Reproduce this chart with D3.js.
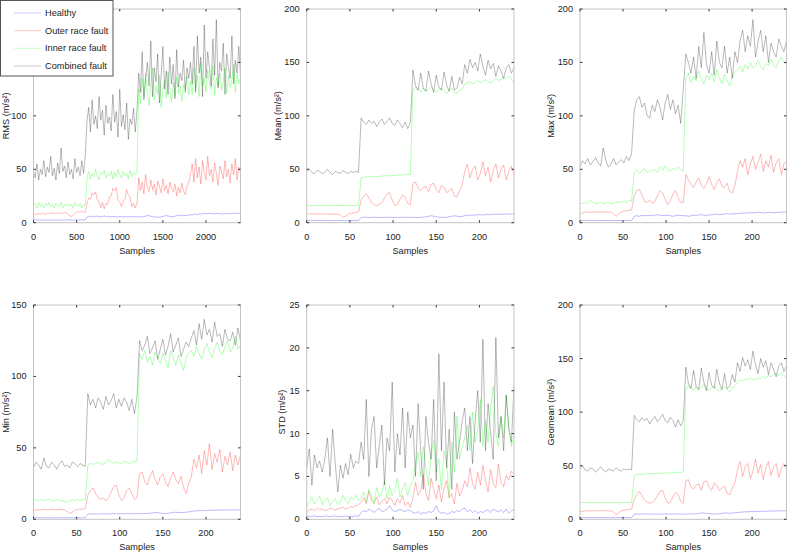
<!DOCTYPE html>
<html><head><meta charset="utf-8">
<script src="https://cdn.jsdelivr.net/npm/d3@7"></script>
<style>
body{margin:0;background:#fff}
text{font-family:"Liberation Sans",Arial,Helvetica,sans-serif;fill:#222}
</style>
</head><body>
<svg id="chart" width="788" height="552"></svg>
<script>
// ---------- series names / colours ----------
const seriesNames = ["Healthy", "Outer race fault", "Inner race fault", "Combined fault"];
const seriesColors = ["#0000ff", "#ff0000", "#00ff00", "#000000"];

// ---------- RMS (x 0..2400, 121 points) ----------
const rmsHealthy = [
2.5,2.8,2.4,2.6,2.3,2.7,2.5,2.4,2.6,2.3, 2.5,2.7,2.4,2.6,2.5,2.3,2.6,2.4,2.5,2.7, 2.4,2.6,2.5,2.3,2.6,2.4,2.7,2.5,2.8,2.6, 2.7,
5.2,6,5.5,6.3,5.4,5.9,6.2,5.3,6,5.6, 6.4,5.5,6.1,5.7,5.3,6,5.5,5.8,5.2,5.9, 5.6,5.3,5.8,5.4,5.7,5.2,5.6,5.9,5.4,5.7,
5.3,5.6,5.2,5.8,6.2,6.8,6.4,6,5.7,5.4, 5.2,5.6,5,5.4,5.8,6.3,6.7,6.2,5.9,5.5, 5.8,6.2,6.5,6.9,6.4,6.8,7,6.6,6.9,7.2,
7.5,7.2,7.8,8.1,7.6,8.3,7.9,8.5,8.8,8.2, 8.6,8.9,8.4,8.7,8.1,8.5,8.9,8.3,8,8.4, 8.7,8.2,8.6,8.9,8.3,8.8,9.1,8.5,8.9,8.6];
const rmsOuter = [
6.5,8.2,7.6,8.8,8,9.2,8.5,7.8,9,8.3, 9.5,8.7,9.1,8.2,9.6,8.8,9.3,8.6,9.4,8.9, 8.2,6.5,5.8,6.9,8.5,9.8,10.5,9.6,11,10.2, 9.5,
18,23,22,28,26,29,21,20,14,19, 13,18,17,24,25,32,30,33,21,19, 15,20,22,31,26,24,15,18,14,18,
42,30,38,27,45,33,29,40,31,36, 26,39,34,28,41,30,35,27,38,32, 29,36,25,33,28,37,30,26,34,38,
45,55,38,60,42,52,36,58,47,40, 62,44,50,38,56,46,35,53,48,41, 58,43,50,37,55,45,60,40,52,47];
const rmsInner = [
16,18,14,19,15,17,14,18,16,19, 15,17,14,18,16,15,19,14,17,16, 18,15,17,14,19,16,15,18,14,17, 16,
42,48,41,46,43,50,44,40,47,45, 49,42,46,44,48,41,47,43,50,45, 42,48,44,46,41,49,43,47,45,48,
125,112,135,118,140,122,110,130,145,115, 128,120,138,108,126,133,117,141,124,113, 131,119,136,121,128,114,130,125,137,120,
132,120,145,126,138,118,150,128,135,122, 143,130,125,147,119,136,128,140,124,132, 145,121,138,127,134,148,122,139,130,136];
const rmsCombined = [
48,42,55,40,50,45,58,43,52,47, 62,44,51,40,56,46,70,48,53,42, 57,45,50,41,60,47,52,44,58,46, 62,
95,108,85,115,92,100,88,118,96,105, 82,110,93,99,86,120,94,104,80,125, 90,101,87,112,78,97,92,107,85,105,
140,122,160,115,135,150,128,170,118,145, 132,158,112,138,165,125,142,120,155,130, 148,116,162,127,140,133,152,122,145,135,
150,130,165,122,175,140,155,118,185,135, 160,145,128,172,138,190,126,150,142,168, 120,158,145,135,175,130,152,140,165,138];

// ---------- Mean (x 0..240, 81 points) ----------
const meanHealthy = [
2,2,2.2,2,1.8,2,2,2.2,2,2,1.8,2,2,2.2,2,1.8,2,2,2.2,2,2,
5,5.2,5,4.8,5,5.2,5,4.8,5,5,5.2,5,4.8,5,5,4.8,5,5.2,5,5,
5,5,4.8,5,5.2,5.5,6,6.5,6,5.5,5.2,5,5,5,5.5,6,6.5,6,5.8,6,
6.5,7,7,7.2,7,7.5,7.5,7.2,7.5,7.8,7.5,7.8,8,7.8,8,8,8,8,8.2,8];
const meanOuter = [
8,8.5,8,8,8.5,8,8,8.5,8,8,8,8,8,7,5,6,8,9,9,9.5,10,
21,25,27,23,19,17,16,17,19,23,27,28,21,16,17,22,26,24,18,17,
37,38,32,30,33,34,29,36,37,31,28,35,33,28,30,32,25,24,30,35,
48,55,42,50,53,40,46,57,44,52,38,49,55,42,50,54,40,48,53,45];
const meanInner = [
16,16,16.2,16,16,16.1,16,16,16.2,16,16,16,16.1,16,16,16.2,16,16,16,16.1,16,
42,42.5,43,42.8,43,43.5,43,43.2,43.5,44,43.8,44,44.2,44,44.5,44.8,44.5,45,45,45.2,
124,127,125,122,126,123,125,127,124,122,125,126,123,121,124,126,122,121,124,125,
130,131,132,130,131,133,131,132,134,132,131,133,135,133,134,136,135,137,134,132];
const meanCombined = [
48,50,47,46,49,48,46,47,50,47,45,48,47,46,49,47,46,48,47,48,47,
98,94,92,96,93,95,90,94,97,92,95,98,93,91,96,93,89,94,88,94,
143,128,124,140,126,123,142,130,122,138,127,124,141,129,123,137,124,126,136,130,
148,140,153,145,150,142,158,146,138,152,144,149,137,147,142,135,145,148,140,145];

// ---------- Max ----------
const maxHealthy = [
2,2,2.2,2,2,2,2.2,2,2,2,2,2,2.2,2,2,2,2,2,2.2,2,2,
6,6.5,6,6.8,6.5,7,6.5,6.8,7,7.5,7,6.5,7,6.8,6.5,6,6.5,7,6.8,6.5,
6.5,6,6.5,7,6.8,7.2,7.5,7,6.8,7.5,7.2,7.8,8,7.5,7.8,8,8.5,8,8.2,8.5,
8.5,9,8.8,9.2,9,9.5,9.2,9.5,9.8,9.5,9,9.5,9.8,9.5,9.2,9.5,9.8,10,9.8,10];
const maxOuter = [
8,9,10,10,9.5,10,10,9.8,10,10.2,10,9.8,10,8,6,8,10,11,11,11.5,12,
25,30,31,26,20,19,21,18,20,25,30,28,22,17,20,27,30,24,19,19,
45,40,36,33,38,42,35,32,37,43,36,31,38,41,34,33,37,29,28,35,
48,58,52,60,45,55,62,50,57,64,48,58,52,63,47,56,60,45,55,58];
const maxInner = [
18,18,19,18,21,19,18,18,19,18,18,19,18,18,19,19,20,20,19,21,20,
47,50,46,48,51,47,49,48,50,47,52,49,53,50,48,51,49,52,50,48,
135,140,131,137,133,142,135,130,138,134,140,132,143,136,130,139,133,128,136,141,
143,146,141,148,144,150,145,147,152,146,143,149,147,153,148,145,151,155,150,148];
const maxCombined = [
52,58,55,60,54,57,61,56,53,70,58,52,55,60,54,57,59,56,62,58,65,
105,115,118,108,112,100,98,110,104,115,108,96,112,120,106,115,102,110,93,125,
158,150,140,155,135,165,145,178,148,140,160,138,170,150,145,165,140,155,135,160,
150,170,180,160,175,165,190,155,170,180,160,175,150,168,160,155,172,165,160,170];

// ---------- Min ----------
const minHealthy = [
1,1.2,1,1,1.2,1,1,1.1,1,1,1.2,1,1,1,1.1,1,1,1.2,1,1,1.2,
3.5,3.8,3.6,3.9,3.7,3.8,4,3.8,3.9,3.7,4,3.8,3.9,4.1,3.8,3.9,4,3.8,3.9,4,
4,3.9,4.1,4,4.3,4.5,4.8,4.6,4.3,4.1,4,4.2,4.5,4.8,5,4.8,4.6,4.8,5,5.2,
5.5,5.8,6,5.9,6.2,6,6.3,6.5,6.2,6.4,6.3,6.6,6.5,6.4,6.6,6.5,6.7,6.5,6.6,6.5];
const minOuter = [
6,6.5,6.8,6.5,7,6.8,6.5,7,6.8,6.6,7,6.8,6.5,5.5,4,5,6.5,7,7,7.2,7.5,
17,20,22,18,15,14,15,13,15,19,23,24,17,13,15,20,22,18,14,15,
32,33,26,24,30,34,28,24,30,32,26,23,29,33,28,25,30,22,18,25,
30,42,36,45,32,48,38,53,35,46,40,49,33,44,38,47,34,45,38,45];
const minInner = [
14,13.5,13,14,13,13.5,14,13,13,14,13,13,12.5,12,13,13.5,13,14,13,14,13.5,
38,39,38.5,39,40,39,38.5,39.5,42,40,39,40,39.5,39,40.5,40,39,40,40.5,41,
116,112,118,110,114,108,117,113,109,116,111,106,118,113,108,115,110,104,113,116,
118,114,121,116,112,119,123,117,113,120,124,118,115,121,125,117,120,128,119,122];
const minCombined = [
36,40,38,35,43,37,36,40,38,35,39,41,37,38,36,40,39,37,39,38,37,
88,80,84,78,85,82,77,86,80,83,88,78,84,79,85,82,76,84,74,86,
125,118,122,128,116,120,125,112,119,126,115,121,130,117,122,127,114,119,124,121,
127,132,122,137,126,140,129,133,124,138,128,130,121,133,126,125,131,122,134,125];

// ---------- STD ----------
const stdHealthy = [
0.35,0.3,0.35,0.4,0.3,0.35,0.3,0.4,0.35,0.3,0.35,0.4,0.3,0.35,0.3,0.4,0.3,0.35,0.3,0.4,0.35,
0.8,1.0,0.9,1.2,1.0,0.8,1.1,1.3,0.9,1.0,1.2,1.6,1.1,0.9,1.0,1.2,1.0,0.9,1.1,1.0,
0.8,0.7,0.9,0.6,0.8,0.7,0.9,0.8,1.0,1.6,0.9,0.7,0.8,0.6,0.7,0.9,0.8,1.0,0.9,1.2,
1.3,0.9,1.1,0.8,1.0,0.7,0.9,0.8,1.0,1.1,0.8,1.2,1.0,0.9,1.1,0.8,1.2,0.7,1.0,1.1];
const stdOuter = [
0.8,1.1,1.2,1.0,1.3,1.1,1.2,1.0,1.1,1.3,1.2,1.1,1.2,1.3,1.4,1.2,1.3,1.5,1.4,1.6,1.7,
2.0,2.5,1.8,3.3,2.2,1.9,2.6,1.7,2.1,2.4,1.8,2.6,2.2,1.6,2.4,1.9,2.8,1.6,2.0,1.4,
2.5,4.3,2.8,3.3,5.2,3.0,2.2,4.8,3.5,2.4,4.0,2.0,3.6,4.5,2.5,3.0,1.8,4.2,2.7,3.4,
4.5,3.8,6.0,4.2,3.5,5.5,4.0,6.3,4.6,3.2,5.8,4.1,3.7,6.4,4.3,3.8,5.1,4.6,5.6,5.2];
const stdInner = [
1.5,2.0,2.6,1.8,2.2,2.7,1.7,2.3,2.5,1.6,2.1,2.4,1.7,2.0,2.8,2.2,1.8,2.6,2.3,2.8,2.2,
2.5,3.2,2.0,3.5,2.8,1.8,3.7,2.6,3.0,4.5,2.4,3.9,2.8,3.3,4.8,2.6,3.6,4.2,2.8,4.0,
4.5,6.5,7.8,5.0,8.5,6.0,4.0,7.5,9.2,5.5,7.0,3.5,8.0,6.5,2.5,9.0,5.5,12.0,7.0,8.5,
9.5,11.0,8.0,12.5,9.0,10.5,14.0,8.5,11.5,9.0,13.0,15.5,10.0,8.5,12.0,9.5,14.5,11.0,8.5,10.0];
const stdCombined = [
6.0,8.2,4.0,7.5,6.0,6.8,5.5,7.0,9.5,5.0,10.5,6.5,3.2,6.3,4.8,6.5,5.2,7.6,6.0,6.8,6.5,
9.0,7.0,14.0,5.0,10.5,12.0,6.0,8.5,11.0,4.0,9.5,8.0,16.0,5.5,10.0,7.5,13.0,6.0,12.5,9.5,
11.0,5.0,13.5,8.0,3.5,12.0,9.0,7.0,14.0,4.5,19.3,8.0,16.0,6.0,10.5,3.5,12.5,7.0,9.0,11.5,
13.0,8.0,12.0,6.5,11.5,15.0,9.0,21.0,8.0,13.5,10.0,7.0,21.2,9.5,12.0,8.0,14.5,10.5,9.0,15.5];

// ---------- Geomean ----------
const geoHealthy = [
1.5,1.6,1.5,1.7,1.5,1.6,1.5,1.5,1.7,1.5,1.6,1.5,1.5,1.6,1.5,1.7,1.5,1.6,1.5,1.5,1.6,
4.8,5,4.7,5,4.9,5.1,4.8,5,4.9,4.7,5,4.8,5,4.9,4.8,5,4.9,5,4.8,4.9,
4.8,5,4.9,5.2,5,5.5,6,5.8,5.5,5.2,5,4.9,5,5.2,5.6,6,5.8,5.6,5.8,6,
6.3,6.6,6.8,7,6.9,7.2,7.1,7.3,7.5,7.4,7.6,7.5,7.7,7.6,7.8,7.7,7.9,7.8,8,7.9];
const geoOuter = [
7,7.5,7.8,8,7.8,8,7.9,8,7.8,8,8.2,7.8,8,6.5,4.5,6,7.8,8.5,9,9.2,9.5,
19,23,26,22,18,16,15,16,18,22,26,27,20,15,16,21,25,23,17,15,
36,37,30,28,32,33,27,35,36,30,27,34,32,27,29,31,24,23,29,34,
46,54,40,49,52,38,45,56,43,51,37,48,54,41,49,52,39,47,52,48];
const geoInner = [
15.5,15.8,15.6,15.5,15.7,15.6,15.5,15.8,15.6,15.5,15.7,15.6,15.5,15.8,15.6,15.5,15.7,15.6,15.5,15.8,15.6,
41,41.8,42,41.7,42.2,42.5,42.3,42.8,42.6,43,42.8,43.2,43,43.5,43.3,43.6,43.8,44,43.8,44.2,
121,125,123,120,124,121,123,126,122,120,123,125,121,120,122,124,121,119,123,124,
128,130,129,131,130,132,131,130,132,131,133,132,134,133,135,136,134,137,134,132];
const geoCombined = [
47,50,46,45,48,47,44,46,49,46,44,47,46,45,48,46,45,47,46,47,46,
97,93,91,95,92,94,89,93,96,91,94,98,92,90,95,92,86,93,87,92,
142,127,122,139,124,121,141,128,120,137,125,122,140,127,121,136,122,124,135,128,
146,138,151,143,149,140,157,144,136,150,142,148,135,146,140,133,143,146,138,143];

// ---------- axis tick labels ----------
const xTicksRms = [0, 500, 1000, 1500, 2000];
const xTicks240 = [0, 50, 100, 150, 200];
const yTicks200 = [0, 50, 100, 150, 200];
const yTicks150 = [0, 50, 100, 150];
const yTicks25 = [0, 5, 10, 15, 20, 25];

// ---------- layout ----------
const rows = [{top: 9, bottom: 222.7}, {top: 305, bottom: 519.3}];
const cols = [{left: 33.5, right: 240.5}, {left: 306.7, right: 514}, {left: 580, right: 786.5}];

const panels = [
  {row:0, col:0, ylabel:"RMS (m/s²)",     labelX:6,   xMax:2400, xTicks:xTicksRms, yMax:200, yTicks:yTicks200, series:[rmsHealthy, rmsOuter, rmsInner, rmsCombined]},
  {row:0, col:1, ylabel:"Mean (m/s²)",    labelX:278, xMax:240,  xTicks:xTicks240, yMax:200, yTicks:yTicks200, series:[meanHealthy, meanOuter, meanInner, meanCombined]},
  {row:0, col:2, ylabel:"Max (m/s²)",     labelX:551, xMax:240,  xTicks:xTicks240, yMax:200, yTicks:yTicks200, series:[maxHealthy, maxOuter, maxInner, maxCombined]},
  {row:1, col:0, ylabel:"Min (m/s²)",     labelX:6,   xMax:240,  xTicks:xTicks240, yMax:150, yTicks:yTicks150, series:[minHealthy, minOuter, minInner, minCombined]},
  {row:1, col:1, ylabel:"STD (m/s²)",     labelX:282, xMax:240,  xTicks:xTicks240, yMax:25,  yTicks:yTicks25,  series:[stdHealthy, stdOuter, stdInner, stdCombined]},
  {row:1, col:2, ylabel:"Geomean (m/s²)", labelX:551, xMax:240,  xTicks:xTicks240, yMax:200, yTicks:yTicks200, series:[geoHealthy, geoOuter, geoInner, geoCombined]}
];

const svg = d3.select("#chart");
const FS = 9.2;
const lineOpacity = [0.5, 0.5, 0.55, 0.5];

panels.forEach(p => {
  const r = rows[p.row], c = cols[p.col];
  const x = d3.scaleLinear().domain([0, p.xMax]).range([c.left, c.right]);
  const y = d3.scaleLinear().domain([0, p.yMax]).range([r.bottom, r.top]);
  const g = svg.append("g");

  // data lines
  p.series.forEach((arr, si) => {
    const step = p.xMax / (arr.length - 1);
    const line = d3.line().x((d, i) => x(i * step)).y(d => y(d));
    g.append("path").datum(arr)
      .attr("d", line)
      .attr("fill", "none")
      .attr("stroke", seriesColors[si])
      .attr("stroke-width", 0.55)
      .attr("stroke-opacity", lineOpacity[si]);
  });

  // box
  g.append("rect")
    .attr("x", c.left).attr("y", r.top)
    .attr("width", c.right - c.left).attr("height", r.bottom - r.top)
    .attr("fill", "none").attr("stroke", "#c4c4c4").attr("stroke-width", 1);

  // ticks (inside, all four sides)
  const tl = 2.5;
  p.xTicks.forEach(t => {
    const xx = x(t);
    g.append("line").attr("x1", xx).attr("x2", xx).attr("y1", r.bottom).attr("y2", r.bottom - tl).attr("stroke", "#333").attr("stroke-width", 1);
    g.append("line").attr("x1", xx).attr("x2", xx).attr("y1", r.top).attr("y2", r.top + tl).attr("stroke", "#333").attr("stroke-width", 1);
    g.append("text").attr("x", xx).attr("y", r.bottom + 14)
      .attr("text-anchor", "middle").attr("dominant-baseline", "central")
      .attr("font-size", FS).text(t);
  });
  p.yTicks.forEach(t => {
    const yy = y(t);
    g.append("line").attr("x1", c.left).attr("x2", c.left + tl).attr("y1", yy).attr("y2", yy).attr("stroke", "#333").attr("stroke-width", 1);
    g.append("line").attr("x1", c.right).attr("x2", c.right - tl).attr("y1", yy).attr("y2", yy).attr("stroke", "#333").attr("stroke-width", 1);
    g.append("text").attr("x", c.left - 7).attr("y", yy)
      .attr("text-anchor", "end").attr("dominant-baseline", "central")
      .attr("font-size", FS).text(t);
  });

  // axis labels
  g.append("text").attr("x", (c.left + c.right) / 2).attr("y", r.bottom + 28)
    .attr("text-anchor", "middle").attr("dominant-baseline", "central")
    .attr("font-size", FS).text("Samples");
  const cy = (r.top + r.bottom) / 2;
  g.append("text").attr("transform", `translate(${p.labelX},${cy}) rotate(-90)`)
    .attr("text-anchor", "middle").attr("dominant-baseline", "central")
    .attr("font-size", FS).text(p.ylabel);
});

// ---------- legend (over the first panel) ----------
const lg = svg.append("g");
lg.append("rect").attr("x", 0.5).attr("y", 0.5).attr("width", 112.5).attr("height", 75.5)
  .attr("fill", "#fff").attr("stroke", "#555").attr("stroke-width", 1);
const legendY = d3.scalePoint().domain(seriesNames).range([13, 66]);
seriesNames.forEach((name, i) => {
  const yy = legendY(name);
  lg.append("line").attr("x1", 14).attr("x2", 41).attr("y1", yy).attr("y2", yy)
    .attr("stroke", seriesColors[i]).attr("stroke-width", 0.55).attr("stroke-opacity", 0.4);
  lg.append("text").attr("x", 45).attr("y", yy).attr("dominant-baseline", "central")
    .attr("font-size", FS).text(name);
});
</script>
</body></html>
